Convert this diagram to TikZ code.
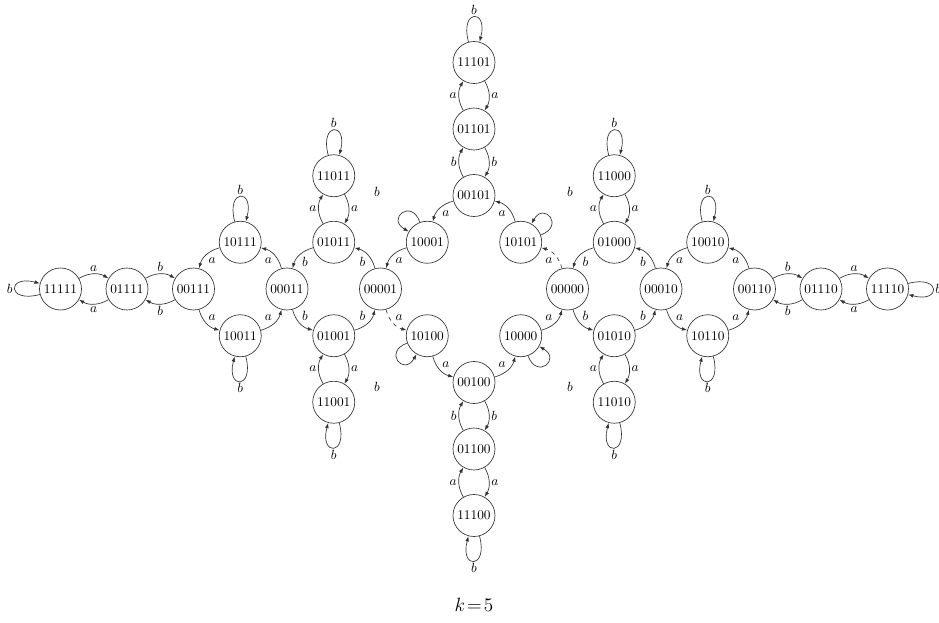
\documentclass[tikz,border=0pt]{standalone}
\usetikzlibrary{arrows.meta}
\begin{document}
\begin{tikzpicture}[x=0.75pt,y=0.75pt,
  st/.style={circle,draw=black!80,line width=0.5pt,minimum size=31.5pt,inner sep=0pt},
  tr/.style={draw=black!80,line width=0.5pt,-{Latex[length=4pt,width=2.8pt]}},
  lbl/.style={auto,inner sep=1.5pt},
  lp/.style={inner sep=1.5pt},
  lpp/.style={loop,looseness=8,min distance=14pt},
  lpd/.style={loop,looseness=4.5,min distance=10pt}]
\useasboundingbox (-474,-334) rectangle (465,289);
\def\hg{46.75}\def\lg{66.5}
% nodes
\node[st] (n11111) at ({-6*\hg-2*\lg},0) {11111};
\node[st] (n01111) at ({-6*\hg-\lg},0) {01111};
\node[st] (n00111) at ({-6*\hg},0) {00111};
\node[st] (n10111) at ({-5*\hg},\hg) {10111};
\node[st] (n10011) at ({-5*\hg},-\hg) {10011};
\node[st] (n00011) at ({-4*\hg},0) {00011};
\node[st] (n01011) at ({-3*\hg},\hg) {01011};
\node[st] (n01001) at ({-3*\hg},-\hg) {01001};
\node[st] (n11011) at ({-3*\hg},{\hg+\lg}) {11011};
\node[st] (n11001) at ({-3*\hg},{-\hg-\lg}) {11001};
\node[st] (n00001) at ({-2*\hg},0) {00001};
\node[st] (n10001) at (-\hg,\hg) {10001};
\node[st] (n10100) at (-\hg,-\hg) {10100};
\node[st] (n00101) at (0,{2*\hg}) {00101};
\node[st] (n01101) at (0,{2*\hg+\lg}) {01101};
\node[st] (n11101) at (0,{2*\hg+2*\lg}) {11101};
\node[st] (n00100) at (0,{-2*\hg}) {00100};
\node[st] (n01100) at (0,{-2*\hg-\lg}) {01100};
\node[st] (n11100) at (0,{-2*\hg-2*\lg}) {11100};
\node[st] (n10101) at (\hg,\hg) {10101};
\node[st] (n10000) at (\hg,-\hg) {10000};
\node[st] (n00000) at ({2*\hg},0) {00000};
\node[st] (n01000) at ({3*\hg},\hg) {01000};
\node[st] (n01010) at ({3*\hg},-\hg) {01010};
\node[st] (n11000) at ({3*\hg},{\hg+\lg}) {11000};
\node[st] (n11010) at ({3*\hg},{-\hg-\lg}) {11010};
\node[st] (n00010) at ({4*\hg},0) {00010};
\node[st] (n10010) at ({5*\hg},\hg) {10010};
\node[st] (n10110) at ({5*\hg},-\hg) {10110};
\node[st] (n00110) at ({6*\hg},0) {00110};
\node[st] (n01110) at ({6*\hg+\lg},0) {01110};
\node[st] (n11110) at ({6*\hg+2*\lg},0) {11110};
% floating labels
\node (fb1) at (-97,97) {$b$};
\node (fb2) at (96,97) {$b$};
\node (fb3) at (-97,-98) {$b$};
\node (fb4) at (96,-98) {$b$};
\node[font=\Large] (kk) at (0,-316) {$k\!=\!5$};
% pair edges
\draw[tr] (n11111) to[bend left] node[lbl]{$a$} (n01111);
\draw[tr] (n01111) to[bend left] node[lbl]{$a$} (n11111);
\draw[tr] (n01111) to[bend left] node[lbl]{$b$} (n00111);
\draw[tr] (n00111) to[bend left] node[lbl]{$b$} (n01111);
\draw[tr] (n01110) to[bend left] node[lbl]{$a$} (n11110);
\draw[tr] (n11110) to[bend left] node[lbl]{$a$} (n01110);
\draw[tr] (n00110) to[bend left] node[lbl]{$b$} (n01110);
\draw[tr] (n01110) to[bend left] node[lbl]{$b$} (n00110);
\draw[tr] (n01011) to[bend left] node[lbl]{$a$} (n11011);
\draw[tr] (n11011) to[bend left] node[lbl]{$a$} (n01011);
\draw[tr] (n11001) to[bend left] node[lbl]{$a$} (n01001);
\draw[tr] (n01001) to[bend left] node[lbl]{$a$} (n11001);
\draw[tr] (n01101) to[bend left] node[lbl]{$a$} (n11101);
\draw[tr] (n11101) to[bend left] node[lbl]{$a$} (n01101);
\draw[tr] (n00101) to[bend left] node[lbl]{$b$} (n01101);
\draw[tr] (n01101) to[bend left] node[lbl]{$b$} (n00101);
\draw[tr] (n00100) to[bend left] node[lbl]{$b$} (n01100);
\draw[tr] (n01100) to[bend left] node[lbl]{$b$} (n00100);
\draw[tr] (n01100) to[bend left] node[lbl]{$a$} (n11100);
\draw[tr] (n11100) to[bend left] node[lbl]{$a$} (n01100);
\draw[tr] (n01000) to[bend left] node[lbl]{$a$} (n11000);
\draw[tr] (n11000) to[bend left] node[lbl]{$a$} (n01000);
\draw[tr] (n11010) to[bend left] node[lbl]{$a$} (n01010);
\draw[tr] (n01010) to[bend left] node[lbl]{$a$} (n11010);
% cycle edges
\draw[tr] (n10111) to[bend right] node[lbl]{$a$} (n00111);
\draw[tr] (n00111) to[bend right] node[lbl]{$a$} (n10011);
\draw[tr] (n10011) to[bend right] node[lbl]{$a$} (n00011);
\draw[tr] (n00011) to[bend right] node[lbl]{$a$} (n10111);
\draw[tr] (n01011) to[bend right] node[lbl]{$b$} (n00011);
\draw[tr] (n00011) to[bend right] node[lbl]{$b$} (n01001);
\draw[tr] (n01001) to[bend right] node[lbl]{$b$} (n00001);
\draw[tr] (n00001) to[bend right] node[lbl]{$b$} (n01011);
\draw[tr] (n00101) to[bend right] node[lbl]{$a$} (n10001);
\draw[tr] (n10001) to[bend right] node[lbl]{$a$} (n00001);
\draw[tr,dashed] (n00001) to[bend right] node[lbl]{$a$} (n10100);
\draw[tr] (n10100) to[bend right] node[lbl]{$a$} (n00100);
\draw[tr] (n00100) to[bend right] node[lbl]{$a$} (n10000);
\draw[tr] (n10000) to[bend right] node[lbl]{$a$} (n00000);
\draw[tr,dashed] (n00000) to[bend right] node[lbl]{$a$} (n10101);
\draw[tr] (n10101) to[bend right] node[lbl]{$a$} (n00101);
\draw[tr] (n01000) to[bend right] node[lbl]{$b$} (n00000);
\draw[tr] (n00000) to[bend right] node[lbl]{$b$} (n01010);
\draw[tr] (n01010) to[bend right] node[lbl]{$b$} (n00010);
\draw[tr] (n00010) to[bend right] node[lbl]{$b$} (n01000);
\draw[tr] (n10010) to[bend right] node[lbl]{$a$} (n00010);
\draw[tr] (n00010) to[bend right] node[lbl]{$a$} (n10110);
\draw[tr] (n10110) to[bend right] node[lbl]{$a$} (n00110);
\draw[tr] (n00110) to[bend right] node[lbl]{$a$} (n10010);
% loops
\draw[tr] (n11111) to[out=195,in=165,lpp] node[lp,left]{$b$} (n11111);
\draw[tr] (n11110) to[out=15,in=345,lpp] node[lp,right]{$b$} (n11110);
\draw[tr] (n10111) to[out=105,in=75,lpp] node[lp,above]{$b$} (n10111);
\draw[tr] (n11011) to[out=105,in=75,lpp] node[lp,above]{$b$} (n11011);
\draw[tr] (n11101) to[out=105,in=75,lpp] node[lp,above]{$b$} (n11101);
\draw[tr] (n11000) to[out=105,in=75,lpp] node[lp,above]{$b$} (n11000);
\draw[tr] (n10010) to[out=105,in=75,lpp] node[lp,above]{$b$} (n10010);
\draw[tr] (n10011) to[out=285,in=255,lpp] node[lp,below]{$b$} (n10011);
\draw[tr] (n11001) to[out=285,in=255,lpp] node[lp,below]{$b$} (n11001);
\draw[tr] (n11100) to[out=285,in=255,lpp] node[lp,below]{$b$} (n11100);
\draw[tr] (n11010) to[out=285,in=255,lpp] node[lp,below]{$b$} (n11010);
\draw[tr] (n10110) to[out=285,in=255,lpp] node[lp,below]{$b$} (n10110);
\draw[tr] (n10001) to[out=110,in=150,lpd] (n10001);
\draw[tr] (n10101) to[out=20,in=60,lpd] (n10101);
\draw[tr] (n10100) to[out=200,in=240,lpd] (n10100);
\draw[tr] (n10000) to[out=290,in=330,lpd] (n10000);
\end{tikzpicture}
\end{document}
